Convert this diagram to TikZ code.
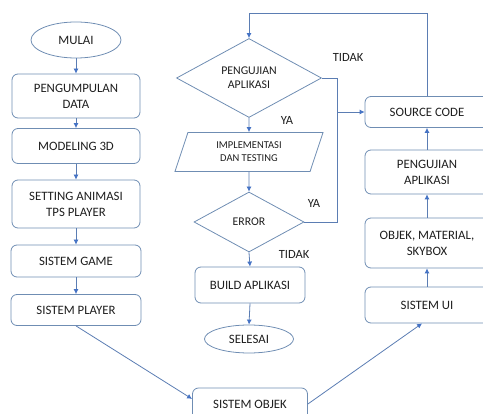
\documentclass[tikz,border=0pt]{standalone}
\usepackage{fontspec}
\setmainfont{Carlito}
\usepackage{xcolor}
\usepackage{tikz}
\usetikzlibrary{shapes.geometric,arrows.meta}
\definecolor{boxline}{HTML}{6F8DB3}
\definecolor{flowline}{HTML}{5B7DB3}
\definecolor{tipcol}{HTML}{4472C4}
\definecolor{ink}{HTML}{1E1E1E}

\begin{document}
\begin{tikzpicture}[x=1pt,y=-1pt,
 box/.style={draw=boxline,line width=0.8pt,rounded corners=6pt,align=center,
  text=ink,font=\fontsize{12.8}{16}\selectfont},
 term/.style={ellipse,draw=boxline,line width=0.8pt,inner sep=0pt,
  text=ink,font=\fontsize{12.8}{16}\selectfont},
 choice/.style={diamond,draw=boxline,line width=0.8pt,inner sep=0pt,align=center,
  text=ink,font=\fontsize{11.8}{14}\selectfont},
 io/.style={trapezium,trapezium left angle=57,trapezium right angle=123,
  trapezium stretches body,draw=boxline,line width=0.8pt,inner sep=0pt,align=center,
  text=ink,font=\fontsize{10.5}{13}\selectfont},
 lbl/.style={inner sep=0pt,text=ink,font=\fontsize{12.5}{14}\selectfont},
 line/.style={draw=flowline,line width=0.8pt},
 flow/.style={line,-{Latex[length=5pt,width=5pt,color=tipcol]}}]

\useasboundingbox (0,0) rectangle (483,414);

%left
\node (mulai) [term, minimum width=90, minimum height=36] at (76,40) {MULAI};
\node (kumpul) [box, minimum width=128, minimum height=44] at (76,96) {PENGUMPULAN\\DATA};
\node (model) [box, minimum width=128, minimum height=35] at (76,146) {MODELING 3D};
\node (anim) [box, minimum width=128, minimum height=48] at (76,204) {SETTING ANIMASI\\TPS PLAYER};
\node (game) [box, minimum width=130, minimum height=32] at (76,261) {SISTEM GAME};
\node (player) [box, minimum width=130, minimum height=31] at (76,310) {SISTEM PLAYER};

%middle
\node (uji) [choice, minimum width=145, minimum height=79] at (249,78) {PENGUJIAN\\APLIKASI};
\node (impl) [io, minimum width=148, minimum height=39] at (249,152) {IMPLEMENTASI\\DAN TESTING};
\node (error) [choice, minimum width=110, minimum height=60] at (249,222) {ERROR};
\node (build) [box, minimum width=110, minimum height=36] at (250,285) {BUILD APLIKASI};
\node (selesai) [term, minimum width=89, minimum height=28] at (249,339) {SELESAI};
\node (objek) [box, minimum width=115, minimum height=32] at (250,404) {SISTEM OBJEK};

%right
\node (source) [box, minimum width=124, minimum height=31] at (427,112) {SOURCE CODE};
\node (ujiapp) [box, minimum width=124, minimum height=44] at (427,172) {PENGUJIAN\\APLIKASI};
\node (omat) [box, minimum width=124, minimum height=50] at (427,243) {OBJEK, MATERIAL,\\SKYBOX};
\node (ui) [box, minimum width=124, minimum height=36] at (427,305) {SISTEM UI};

%labels
\node (tidaka) [lbl] at (348,57) {TIDAK};
\node (yaa) [lbl] at (287,120) {YA};
\node (yab) [lbl] at (314,203) {YA};
\node (tidakb) [lbl] at (294,254) {TIDAK};

\coordinate (top) at (249,13);
\coordinate (bus) at (337,78);

\foreach \a/\b in {mulai/kumpul,kumpul/model,model/anim,anim/game,game/player,
  uji/impl,impl/error,error/build,build/selesai}
 \draw[flow] (\a.south) -- (\b.north);
\foreach \a/\b in {ui/omat,omat/ujiapp,ujiapp/source}
 \draw[flow] (\a.north) -- (\b.south);

\draw[flow] (source.north) |- (top) -- (uji.north);
\draw[line] (uji.east) -- (bus) -- (bus |- error.east) -- (error.east);
\draw[flow] (bus |- source.west) -- (source.west);

\draw[flow] (player.south) -- (objek.175);
\draw[flow] (objek.east) -- (ui.255);

\end{tikzpicture}
\end{document}
